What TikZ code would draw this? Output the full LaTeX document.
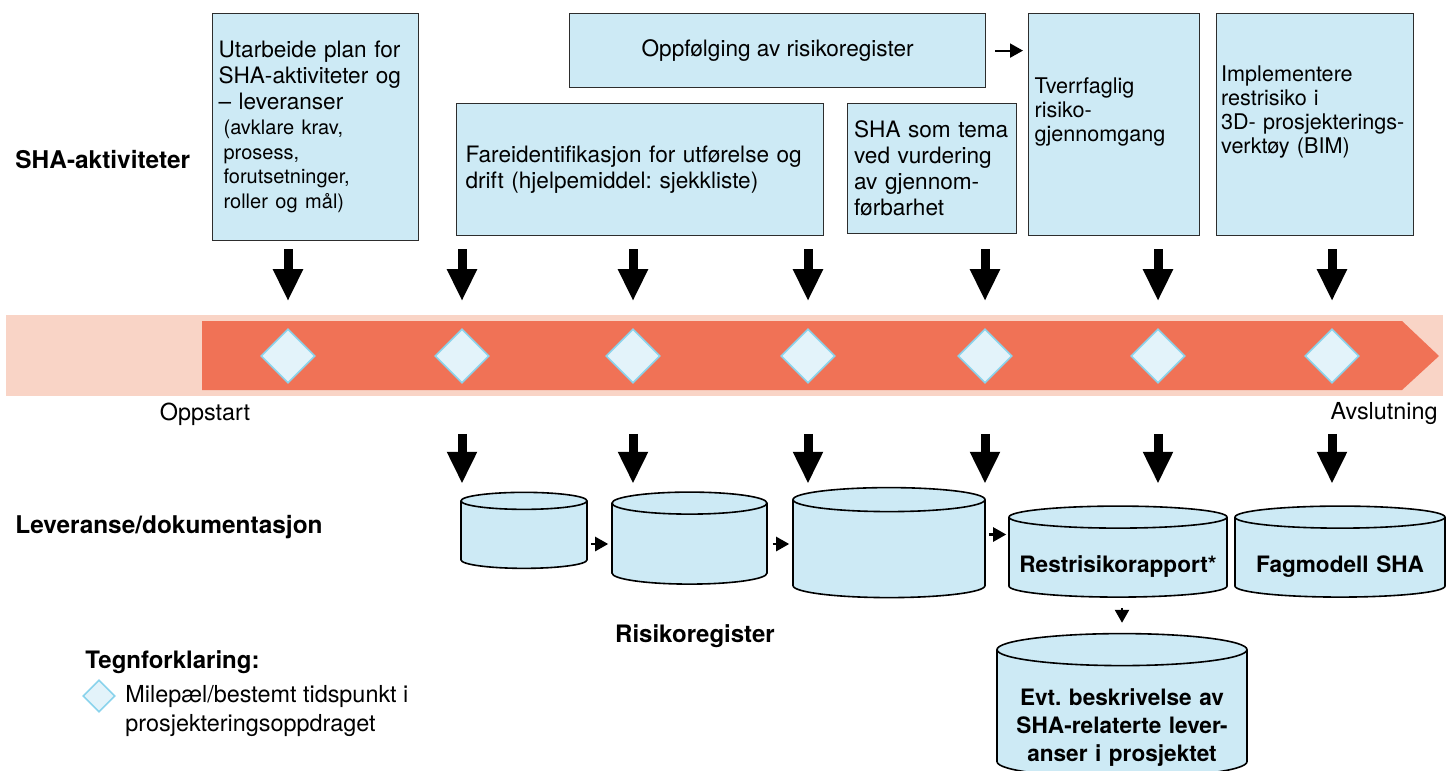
\documentclass[tikz,border=0pt]{standalone}
\usepackage{fontspec}
\setmainfont{TeX Gyre Heros}
\usepackage{tikz}
\usetikzlibrary{arrows.meta, positioning, shapes.geometric, calc}
\definecolor{boxblue}{RGB}{205,234,245}
\definecolor{boxline}{RGB}{45,45,45}
\definecolor{bandpink}{RGB}{249,212,198}
\definecolor{bandred}{RGB}{240,114,86}
\definecolor{msfill}{RGB}{227,243,250}
\definecolor{msline}{RGB}{138,211,236}
\frenchspacing

\begin{document}
\begin{tikzpicture}[
    x=0.5pt, y=-0.5pt,
    akt/.style={rectangle, draw=boxline, fill=boxblue, line width=0.6pt, anchor=north west,
                inner xsep=3pt, inner ysep=0pt, align=left,
                font=\fontsize{11.3}{13}\selectfont},
    lev/.style={cylinder, shape border rotate=90, draw=black, fill=boxblue, line width=0.8pt,
                inner sep=0pt, align=center, font=\fontsize{11.3}{14}\selectfont\bfseries},
    milestone/.style={diamond, draw=msline, fill=msfill, line width=0.8pt, inner sep=0pt,
                      minimum width=27pt, minimum height=27pt},
    rowlabel/.style={anchor=west, align=left, inner sep=0pt,
                     font=\fontsize{12.2}{15}\selectfont\bfseries},
    plain/.style={inner sep=0pt, font=\fontsize{11.7}{14.5}\selectfont},
    bigarrow/.style={-{Triangle[length=16pt, width=14pt]}, line width=4.5pt},
    smallarrow/.style={-{Triangle[length=6.5pt, width=7pt]}, line width=1.2pt},
]
\useasboundingbox (0,0) rectangle (1446,771);

% Row labels
\node[rowlabel] (lblakt) at (15,160) {SHA-aktiviteter};
\node[rowlabel] (lblband) at (14,353) {Prosjekterings-\\oppdrag};
\node[rowlabel] (lbllev) at (15,527) {Leveranse/dokumentasjon};

% SHA activities
\node[akt, minimum width=103pt, minimum height=113.5pt, text width=97pt] (plan) at (212,13)
    {Utarbeide plan for\\SHA-aktiviteter og\\– leveranser\par
     {\fontsize{10}{12.4}\selectfont\leftskip=2.5pt (avklare krav,\\prosess,\\forutsetninger,\\roller og mål)\par}};
\node[akt, minimum width=208pt, minimum height=37pt, align=center] (oppf) at (569,13)
    {Oppfølging av risikoregister};
\node[akt, minimum width=183.5pt, minimum height=66pt, text width=174.5pt, inner xsep=4.5pt] (fare) at (456,103)
    {Fareidentifikasjon for utførelse og\\drift (hjelpemiddel: sjekkliste)};
\node[akt, minimum width=84.5pt, minimum height=65pt, text width=78pt, inner xsep=3.25pt] (sha) at (847,103)
    {SHA som tema\\ved vurdering\\av gjennom-\\førbarhet};
\node[akt, minimum width=85.5pt, text width=79.5pt, text height=40pt, text depth=71pt,
      font=\fontsize{10.8}{12}\selectfont] (tverr) at (1028,13)
    {Tverrfaglig\\risiko-\\gjennomgang};
\node[akt, minimum width=98.5pt, text width=94pt, inner xsep=2.25pt, text height=34pt, text depth=77pt,
      font=\fontsize{10.8}{12}\selectfont] (impl) at (1216,13)
    {Implementere\\restrisiko i\\3D- prosjekterings-\\verktøy (BIM)};

\draw[smallarrow, line width=1pt, shorten <=4.5pt, shorten >=2.5pt] (oppf.east) -- (oppf.east -| tverr.west);

% Project band
\fill[bandpink] (6,315) rectangle (1443,396);
\fill[bandred] (202,321) -- (1402,321) -- (1439,356) -- (1402,390) -- (202,390) -- cycle;

\foreach \i/\x in {1/288, 2/462, 3/633, 4/808, 5/985, 6/1158, 7/1332}
  \node[milestone] (m\i) at (\x,356) {};

\foreach \i in {1,...,7}
  \draw[bigarrow] ([yshift=39.5pt]m\i.north) -- ([yshift=13.5pt]m\i.north);
\foreach \i in {2,...,7}
  \draw[bigarrow] ([yshift=-25pt]m\i.south) -- ([yshift=-50pt]m\i.south);

\node[plain] (start) at (205,414) {Oppstart};
\node[plain, anchor=east] (slutt) at (1438,414) {Avslutning};

% Deliverables
\node[lev, minimum width=63pt, minimum height=38pt, text width=63pt, aspect=0.135] (risk1) at (524,535) {};
\node[lev, minimum width=77.5pt, minimum height=46pt, text width=77.5pt, aspect=0.142] (risk2) at (689.5,544) {};
\node[lev, minimum width=96pt, minimum height=55pt, text width=96pt, aspect=0.125] (risk3) at (889,549) {};
\node[lev, minimum width=109pt, minimum height=45.5pt, text width=109pt, aspect=0.101,
      text height=17pt, text depth=2.5pt] (restr) at (1118,557.5) {Restrisikorapport*};
\node[lev, minimum width=105pt, minimum height=45.5pt, text width=105pt, aspect=0.105,
      text height=17pt, text depth=2.5pt] (fag) at (1340,557.5) {Fagmodell SHA};
\node[lev, minimum width=125pt, minimum height=72pt, text width=125pt, aspect=0.128,
      text height=8.5pt, text depth=17.5pt] (evt) at (1122,714)
    {Evt. beskrivelse av\\SHA-relaterte lever-\\anser i prosjektet};

\coordinate (restrin) at ([yshift=11.5pt]restr.west);
\draw[smallarrow, shorten <=1.5pt, shorten >=1.5pt] (risk1.east |- risk2.west) -- (risk2.west);
\draw[smallarrow, shorten <=2.5pt, shorten >=1.5pt] (risk2.east) -- (risk2.east -| risk3.west);
\draw[smallarrow, shorten <=1.5pt, shorten >=1pt] (risk3.east |- restrin) -- (restrin);
\draw[smallarrow, shorten <=5pt, shorten >=5pt] (evt.north |- restr.south) -- (evt.north);

\node[rowlabel, anchor=center, font=\fontsize{12}{15}\selectfont\bfseries] (riskreg) at (695,636) {Risikoregister};

% Legend
\node[rowlabel, font=\fontsize{12}{15}\selectfont\bfseries] (legtitle) at (85,662) {Tegnforklaring:};
\node[milestone, minimum width=16pt, minimum height=16pt] (legms) at (99,696) {};
\node[plain, anchor=west, align=left] (legtext) at (125,711)
    {Milepæl/bestemt tidspunkt i\\prosjekteringsoppdraget};

\end{tikzpicture}
\end{document}
